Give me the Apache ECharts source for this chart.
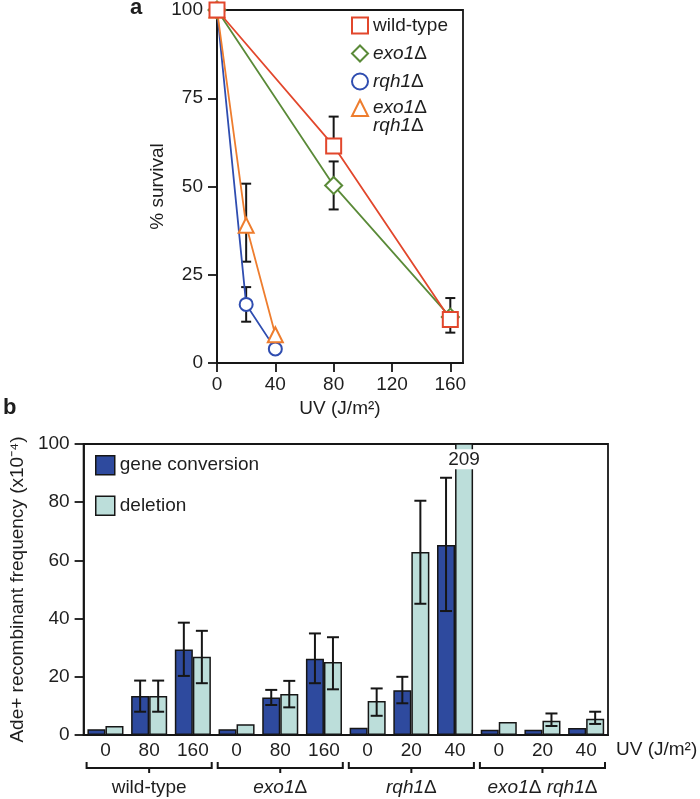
<!DOCTYPE html>
<html><head><meta charset="utf-8">
<script src="https://cdn.jsdelivr.net/npm/echarts@6/dist/echarts.min.js"></script>
<style>html,body{margin:0;padding:0;background:#fff}#c{width:700px;height:799px}</style>
</head><body><div id="c"></div>
<script>
// ---------- Panel a : UV survival ----------
const strainNames = ['wild-type', 'exo1Δ', 'rqh1Δ', 'exo1Δ rqh1Δ'];
const strainColors = ['#E2472C', '#5A8A38', '#2F4DB0', '#EE7D2E'];
const strainSymbols = ['emptyRect', 'emptyDiamond', 'emptyCircle', 'emptyTriangle'];
const strainSymbolSizes = [15, 17, 13, 15];
const strainZ = [4, 3, 3, 3];
const uvDoseA = [0, 80, 160];
const uvDoseB = [0, 20, 40];
const survWT = [100, 61.5, 12.3];
const survExo = [100, 50.3, 13.0];
const survRqh = [100, 16.6, 4.0];
const survDbl = [100, 39.0, 8.0];
const errLowWT = [null, 61.5, 8.6];
const errHighWT = [null, 69.8, 18.4];
const errLowExo = [null, 43.5, null];
const errHighExo = [null, 57.1, null];
const errLowRqh = [null, 11.7, null];
const errHighRqh = [null, 21.5, null];
const errLowDbl = [null, 28.7, null];
const errHighDbl = [null, 50.8, null];
const survTicksX = [0, 40, 80, 120, 160];

// ---------- Panel b : recombinant frequency ----------
const uvLabels = ['0', '80', '160', '0', '80', '160', '0', '20', '40', '0', '20', '40'];
const groupNames = ['wild-type', 'exo1Δ', 'rqh1Δ', 'exo1Δ rqh1Δ'];
const groupSize = 3;
const barNames = ['gene conversion', 'deletion'];
const gcVals = [2.0, 13.4, 29.4, 2.0, 12.9, 26.2, 2.5, 15.4, 65.3, 1.8, 1.8, 2.4];
const delVals = [3.1, 13.4, 26.9, 3.7, 14.1, 25.1, 11.7, 62.9, 209, 4.5, 4.9, 5.6];
const gcLow = [null, 8.0, 20.3, null, 10.3, 17.8, null, 10.9, 42.6, null, null, null];
const gcHigh = [null, 18.7, 38.6, null, 15.5, 34.9, null, 20.0, 88.4, null, null, null];
const delLow = [null, 8.0, 17.8, null, 9.5, 15.7, 6.6, 45.1, null, null, 3.1, 3.8];
const delHigh = [null, 18.7, 35.8, null, 18.6, 33.6, 16.0, 80.5, null, null, 7.4, 8.0];
const freqMax = 100;

// ---------- styling ----------
const FONT = 'Liberation Sans, Arial, sans-serif';
const TXT = '#1e1e1e';
const INK = '#161616';
const FS = 19;
const barColors = ['#2E4A9E', '#BCDEDA'];
const barCatGap = 0.175;
const richItalic = { i: { fontStyle: 'italic', fontSize: FS, fontFamily: FONT, color: TXT } };
function richName(n) { return n.replace(/([a-z]+\d)Δ/g, '{i|$1}Δ'); }

const survX = [uvDoseA, uvDoseA, uvDoseB, uvDoseB];
const survY = [survWT, survExo, survRqh, survDbl];
const survLo = [errLowWT, errLowExo, errLowRqh, errLowDbl];
const survHi = [errHighWT, errHighExo, errHighRqh, errHighDbl];

function errA(params, api) {
  const x = api.value(0), lo = api.value(1), hi = api.value(2);
  const pL = api.coord([x, lo]), pH = api.coord([x, hi]);
  const c = 5, st = { stroke: INK, lineWidth: 2 };
  return { type: 'group', children: [
    { type: 'line', shape: { x1: pL[0], y1: pL[1], x2: pH[0], y2: pH[1] }, style: st },
    { type: 'line', shape: { x1: pH[0] - c, y1: pH[1], x2: pH[0] + c, y2: pH[1] }, style: st },
    { type: 'line', shape: { x1: pL[0] - c, y1: pL[1], x2: pL[0] + c, y2: pL[1] }, style: st }
  ]};
}
function makeErrB(sign) {
  return function (params, api) {
    const i = api.value(0), lo = api.value(1), hi = api.value(2);
    const band = api.size([1, 0])[0];
    const off = sign * band * (1 - barCatGap) / 4;
    const pL = api.coord([i, lo]), pH = api.coord([i, hi]);
    const x = pL[0] + off, c = 6, st = { stroke: INK, lineWidth: 2 };
    return { type: 'group', children: [
      { type: 'line', shape: { x1: x, y1: pL[1], x2: x, y2: pH[1] }, style: st },
      { type: 'line', shape: { x1: x - c, y1: pH[1], x2: x + c, y2: pH[1] }, style: st },
      { type: 'line', shape: { x1: x - c, y1: pL[1], x2: x + c, y2: pL[1] }, style: st }
    ]};
  };
}
function bracket(params, api) {
  const s = api.value(0), e = api.value(1), g = api.value(2);
  const band = api.size([1, 0])[0];
  const p0 = api.coord([s, 0]), p1 = api.coord([e, 0]);
  const x0 = p0[0] - band / 2 + 3, x1 = p1[0] + band / 2 - 3, y = p0[1];
  const xm = (x0 + x1) / 2, st = { stroke: INK, lineWidth: 2, fill: null };
  return { type: 'group', children: [
    { type: 'polyline', shape: { points: [[x0, y + 27], [x0, y + 33], [x1, y + 33], [x1, y + 27]] }, style: st },
    { type: 'line', shape: { x1: xm, y1: y + 33, x2: xm, y2: y + 38 }, style: st },
    { type: 'text', x: xm, y: y + 53, style: { text: richName(groupNames[g]), rich: richItalic, fill: TXT,
      fontSize: FS, fontFamily: FONT, align: 'center', verticalAlign: 'middle' } }
  ]};
}

const series = [];
strainNames.forEach(function (n, k) {
  const d = [];
  survX[k].forEach(function (x, j) { if (survLo[k][j] != null) d.push([x, survLo[k][j], survHi[k][j]]); });
  series.push({ type: 'custom', name: n + ' err', xAxisIndex: 0, yAxisIndex: 0, z: 1, renderItem: errA, data: d, silent: true });
});
strainNames.forEach(function (n, k) {
  series.push({ type: 'line', name: n, xAxisIndex: 0, yAxisIndex: 0, z: strainZ[k],
    data: survX[k].map(function (x, j) { return [x, survY[k][j]]; }),
    symbol: strainSymbols[k], symbolSize: strainSymbolSizes[k], showAllSymbol: true,
    itemStyle: { color: strainColors[k], borderWidth: 2 },
    lineStyle: { color: strainColors[k], width: 1.8 } });
});
series.push({ type: 'bar', name: barNames[0], xAxisIndex: 1, yAxisIndex: 1, data: gcVals,
  barGap: '0%', barCategoryGap: (barCatGap * 100) + '%',
  itemStyle: { color: barColors[0], borderColor: INK, borderWidth: 1.5 } });
series.push({ type: 'bar', name: barNames[1], xAxisIndex: 1, yAxisIndex: 1,
  data: delVals.map(function (v) {
    return v > freqMax ? { value: v, label: { show: true, position: 'insideTop', distance: 6, formatter: '{c}',
      backgroundColor: '#fff', padding: [1, 1, 0, 1], color: TXT, fontSize: FS, fontFamily: FONT } } : v;
  }),
  barGap: '0%', barCategoryGap: (barCatGap * 100) + '%',
  itemStyle: { color: barColors[1], borderColor: INK, borderWidth: 1.5 } });
[[gcLow, gcHigh, -1], [delLow, delHigh, 1]].forEach(function (e) {
  const d = [];
  e[0].forEach(function (lo, i) { if (lo != null) d.push([i, lo, e[1][i]]); });
  series.push({ type: 'custom', xAxisIndex: 1, yAxisIndex: 1, z: 5, renderItem: makeErrB(e[2]), data: d, silent: true });
});
series.push({ type: 'custom', xAxisIndex: 1, yAxisIndex: 1, z: 5, renderItem: bracket, silent: true,
  data: groupNames.map(function (g, k) { return [k * groupSize, k * groupSize + groupSize - 1, k]; }) });

const axisLine = { lineStyle: { color: INK, width: 1.8 } };
const option = {
  animation: false,
  textStyle: { fontFamily: FONT, color: TXT },
  title: [
    { text: 'a', left: 130, top: -3, padding: 0, textStyle: { fontSize: 22, fontWeight: 'bold', color: TXT, fontFamily: FONT } },
    { text: 'b', left: 3, top: 397, padding: 0, textStyle: { fontSize: 22, fontWeight: 'bold', color: TXT, fontFamily: FONT } }
  ],
  legend: [
    { data: strainNames.slice(0, 3).map(function (n, k) { return { name: n, icon: strainSymbols[k] }; }),
      orient: 'vertical', left: 351, top: 16, padding: 0, itemWidth: 16, itemHeight: 16, itemGap: 9,
      selectedMode: false, formatter: richName,
      textStyle: { fontSize: FS, lineHeight: 18, color: TXT, fontFamily: FONT, rich: richItalic } },
    { data: [{ name: strainNames[3], icon: strainSymbols[3] }],
      orient: 'vertical', left: 351, top: 81, padding: 0, itemWidth: 16, itemHeight: 16,
      selectedMode: false, formatter: function (n) { return richName(n).replace(' ', '\n'); },
      textStyle: { fontSize: FS, lineHeight: 18, color: TXT, fontFamily: FONT, padding: [18, 0, 0, 0], rich: richItalic } },
    { data: barNames.map(function (n) { return { name: n, icon: 'rect' }; }),
      orient: 'vertical', left: 95, top: 455, padding: 0, itemWidth: 19, itemHeight: 19, itemGap: 20,
      selectedMode: false, itemStyle: { borderColor: INK, borderWidth: 1.5 },
      textStyle: { fontSize: FS, lineHeight: 19, color: TXT, fontFamily: FONT } }
  ],
  grid: [
    { left: 217, top: 10, width: 246, height: 353, show: true, borderColor: INK, borderWidth: 1.8 },
    { left: 74, top: 444, width: 534, height: 291, show: true, borderColor: INK, borderWidth: 1.8 }
  ],
  xAxis: [
    { type: 'value', gridIndex: 0, min: 0, max: 168.7, interval: 40,
      name: 'UV (J/m²)', nameLocation: 'middle', nameGap: 36,
      nameTextStyle: { fontSize: FS, color: TXT, fontFamily: FONT },
      axisLine: axisLine, splitLine: { show: false },
      axisTick: { length: 9, lineStyle: { color: INK, width: 1.8 }, customValues: survTicksX },
      axisLabel: { fontSize: FS, color: TXT, margin: 12, customValues: survTicksX } },
    { type: 'category', gridIndex: 1, data: uvLabels,
      name: 'UV (J/m²)', nameLocation: 'end', nameGap: 8,
      nameTextStyle: { fontSize: FS, color: TXT, fontFamily: FONT, verticalAlign: 'top', padding: [5, 0, 0, 0] },
      axisLine: axisLine, axisTick: { show: false },
      axisLabel: { fontSize: FS, color: TXT, margin: 6, interval: 0 } }
  ],
  yAxis: [
    { type: 'value', gridIndex: 0, min: 0, max: 100, interval: 25,
      name: '% survival', nameLocation: 'middle', nameGap: 47,
      nameTextStyle: { fontSize: FS, color: TXT, fontFamily: FONT },
      axisLine: { show: true, lineStyle: { color: INK, width: 1.8 } }, splitLine: { show: false },
      axisTick: { show: true, length: 9, lineStyle: { color: INK, width: 1.8 } },
      axisLabel: { fontSize: FS, color: TXT, margin: 14 } },
    { type: 'value', gridIndex: 1, min: 0, max: freqMax, interval: 20,
      name: 'Ade+ recombinant frequency (x10⁻⁴)', nameLocation: 'middle', nameGap: 52,
      nameTextStyle: { fontSize: FS, color: TXT, fontFamily: FONT },
      axisLine: { show: true, lineStyle: { color: INK, width: 1.8 } }, splitLine: { show: false },
      axisTick: { show: true, length: 9, lineStyle: { color: INK, width: 1.8 } },
      axisLabel: { fontSize: FS, color: TXT, margin: 14 } }
  ],
  series: series
};
const chart = echarts.init(document.getElementById('c'), null, { renderer: 'canvas' });
chart.setOption(option);
</script></body></html>
